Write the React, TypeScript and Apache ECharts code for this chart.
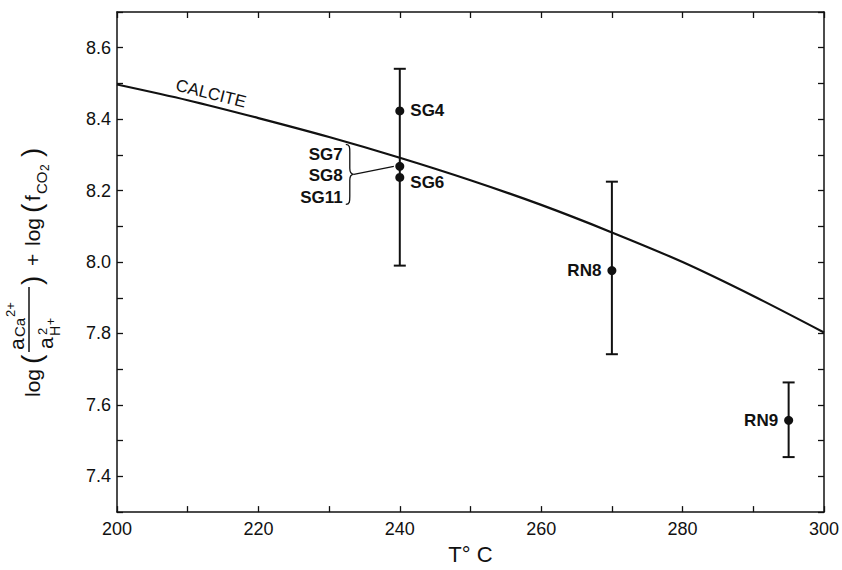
import React, { useEffect, useRef } from "react";
import * as echarts from "echarts";

// Calcite equilibrium curve
const calciteT = [200, 210, 220, 230, 240, 250, 260, 270, 280, 290, 300];
const calciteLog = [8.497, 8.453, 8.403, 8.35, 8.292, 8.229, 8.16, 8.083, 8.0, 7.905, 7.803];

// Samples
const sampleNames = ["SG4", "SG7", "SG6", "RN8", "RN9"];
const sampleT = [240, 240, 240, 270, 295];
const sampleLog = [8.423, 8.268, 8.237, 7.976, 7.557];
const sampleLabelPos = ["right", "none", "right", "left", "left"];

// Error bars
const errT = [240, 270, 295];
const errLow = [7.99, 7.742, 7.454];
const errHigh = [8.541, 8.225, 7.663];

// Grouped labels
const groupNames = ["SG7", "SG8", "SG11"];

const xTicks = [200, 220, 240, 260, 280, 300];

const FONT = '"Liberation Sans", Arial, Helvetica, sans-serif';
const INK = "#111";

try {
  echarts.graphic.registerShape(
    "brace",
    echarts.graphic.extendPath(
      "M0 0 C4 0 4 3 4 8 L4 24 C4 28 5 30 8 30 C5 30 4 32 4 36 L4 52 C4 57 4 60 0 60",
      {}
    )
  );
} catch (e) {}

function txt(u: number, v: number, text: string, size: number) {
  return {
    type: "text",
    x: u,
    y: v,
    style: {
      text,
      fontSize: size,
      fontFamily: FONT,
      fill: INK,
      align: "left",
      verticalAlign: "middle",
      textAlign: "left",
      textVerticalAlign: "middle",
    },
  };
}

export default function App() {
  const ref = useRef<HTMLDivElement>(null);
  useEffect(() => {
    if (!ref.current) return;
    const chart = echarts.init(ref.current, undefined, { renderer: "svg" });

    const axisCommon = {
      axisLine: { show: true, lineStyle: { color: INK, width: 1.5 } },
      axisTick: { show: true, inside: true, length: 6, lineStyle: { color: INK, width: 1.3 } },
      splitLine: { show: false },
    };

    const scatterData = sampleT.map((t, i) => {
      const pos = sampleLabelPos[i];
      return {
        name: sampleNames[i],
        value: [t, sampleLog[i]],
        label: {
          show: pos !== "none",
          position: pos === "none" ? "right" : pos,
          formatter: sampleNames[i],
          fontSize: 17,
          fontWeight: "bold",
          fontFamily: FONT,
          color: INK,
          opacity: 1,
          distance: 6,
          offset: sampleNames[i] === "SG6" ? [0, 5] : [0, 0],
        },
      };
    });

    chart.setOption({
      animation: false,
      backgroundColor: "#fff",
      grid: { left: 117, right: 18, top: 12, bottom: 57 },
      xAxis: [
        {
          type: "value",
          min: 200,
          max: 300,
          interval: 10,
          ...axisCommon,
          axisLabel: {
            show: true,
            margin: 8,
            fontSize: 18,
            fontFamily: FONT,
            color: INK,
            formatter: (v: number) => (xTicks.indexOf(Math.round(v)) >= 0 ? String(Math.round(v)) : ""),
          },
          name: "T° C",
          nameLocation: "middle",
          nameGap: 26,
          nameTextStyle: { fontSize: 22, fontFamily: FONT, color: INK },
        },
        {
          type: "value",
          position: "top",
          min: 200,
          max: 300,
          interval: 10,
          ...axisCommon,
          axisLabel: { show: false },
        },
      ],
      yAxis: [
        {
          type: "value",
          min: 7.3,
          max: 8.7,
          interval: 0.1,
          ...axisCommon,
          axisLabel: {
            show: true,
            margin: 6,
            fontSize: 18,
            fontFamily: FONT,
            color: INK,
            formatter: (v: number) => {
              const t = Math.round(v * 10);
              return t % 2 === 0 ? (t / 10).toFixed(1) : "";
            },
          },
        },
        {
          type: "value",
          position: "right",
          min: 7.3,
          max: 8.7,
          interval: 0.1,
          ...axisCommon,
          axisLabel: { show: false },
        },
      ],
      series: [
        {
          type: "line",
          data: calciteT.map((t, i) => [t, calciteLog[i]]),
          smooth: 0.3,
          showSymbol: false,
          lineStyle: { color: INK, width: 2.2 },
          silent: true,
          z: 2,
        },
        {
          type: "custom",
          data: errT.map((t, i) => [t, errLow[i], errHigh[i]]),
          renderItem: (params: any, api: any) => {
            const x = api.value(0);
            const lo = api.coord([x, api.value(1)]);
            const hi = api.coord([x, api.value(2)]);
            const w = 6;
            const st = { stroke: INK, lineWidth: 2 };
            return {
              type: "group",
              children: [
                { type: "line", shape: { x1: lo[0], y1: lo[1], x2: hi[0], y2: hi[1] }, style: st },
                { type: "line", shape: { x1: lo[0] - w, y1: lo[1], x2: lo[0] + w, y2: lo[1] }, style: st },
                { type: "line", shape: { x1: hi[0] - w, y1: hi[1], x2: hi[0] + w, y2: hi[1] }, style: st },
              ],
            };
          },
          z: 3,
        },
        {
          type: "scatter",
          data: scatterData,
          symbol: "circle",
          symbolSize: 9,
          itemStyle: { color: INK, opacity: 1 },
          z: 4,
        },
      ],
    });

    // Annotations anchored to data coordinates
    const sg7 = chart.convertToPixel({ gridIndex: 0 }, [sampleT[1], sampleLog[1]]) as number[];
    const calc = chart.convertToPixel({ gridIndex: 0 }, [213, 8.435]) as number[];
    const yNameBase = 397;

    const groupTexts = groupNames.map((n, i) => ({
      type: "text",
      x: sg7[0] - 57,
      y: sg7[1] - 12 + i * 21.5,
      style: {
        text: n,
        fontSize: 17,
        fontWeight: "bold",
        fontFamily: FONT,
        fill: INK,
        align: "right",
        verticalAlign: "middle",
        textAlign: "right",
        textVerticalAlign: "middle",
      },
    }));

    chart.setOption({
      graphic: [
        ...groupTexts,
        {
          type: "brace",
          x: sg7[0] - 54,
          y: sg7[1] - 22,
          style: { stroke: INK, fill: "none", lineWidth: 1.3 },
        },
        {
          type: "line",
          shape: { x1: sg7[0] - 46, y1: sg7[1] + 8, x2: sg7[0] - 6, y2: sg7[1] },
          style: { stroke: INK, lineWidth: 1.2 },
        },
        {
          type: "text",
          x: calc[0] + 2,
          y: calc[1] - 13,
          rotation: -0.245,
          style: {
            text: "CALCITE",
            fontSize: 17,
            fontFamily: FONT,
            fill: INK,
            align: "center",
            verticalAlign: "middle",
            textAlign: "center",
            textVerticalAlign: "middle",
          },
        },
        {
          type: "group",
          x: 0,
          y: yNameBase,
          rotation: Math.PI / 2,
          children: [
            txt(0, 32, "log", 21),
            txt(33, 31, "(", 28),
            txt(47, 16, "a", 21),
            txt(60, 19, "Ca", 15),
            txt(80, 10, "2+", 13),
            {
              type: "line",
              shape: { x1: 45, y1: 29, x2: 110, y2: 29 },
              style: { stroke: INK, lineWidth: 1.5 },
            },
            txt(48, 45, "a", 21),
            txt(62, 42, "2", 13),
            txt(61, 55, "H", 14),
            txt(72, 51, "+", 12),
            txt(112, 31, ")", 28),
            txt(131, 32, "+", 21),
            txt(151, 32, "log", 21),
            txt(184, 31, "(", 28),
            txt(196, 32, "f", 21),
            txt(203, 41, "CO", 15),
            txt(226, 45, "2", 12),
            txt(240, 31, ")", 28),
          ],
        },
      ],
    });

    return () => chart.dispose();
  }, []);
  return <div ref={ref} style={{ position: "absolute", left: 0, top: 0, width: 842, height: 570 }} />;
}
